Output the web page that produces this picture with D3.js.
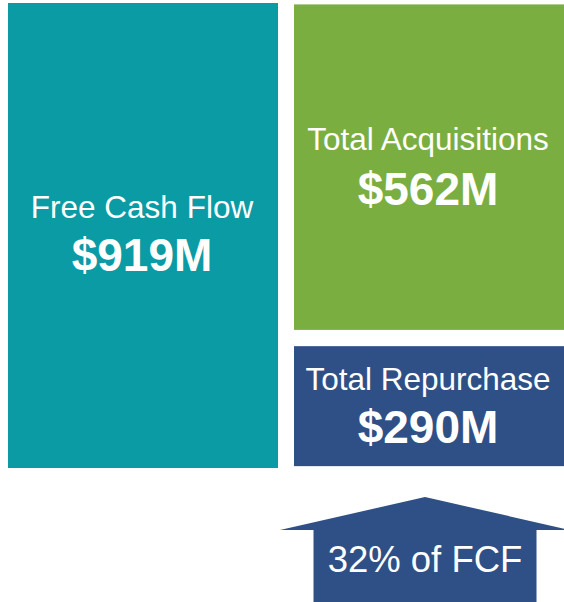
<!DOCTYPE html>
<meta charset="utf-8">
<style>
body { margin: 0; background: #fff; }
svg { display: block; }
text { font-family: "Liberation Sans", Arial, sans-serif; fill: #fff; text-anchor: middle; }
.label { font-size: 31.5px; }
.value { font-size: 46px; font-weight: bold; }
.note { font-size: 36.5px; }
</style>
<svg width="564" height="602"></svg>
<script src="https://d3js.org/d3.v7.min.js"></script>
<script>

// data
var categories = ["Free Cash Flow", "Total Acquisitions", "Total Repurchase"];
var values = [919, 562, 290];          // $M
var share = "32% of FCF";

var colors = ["#0a9ba5", "#7aae41", "#2e5086"];

var svg = d3.select("svg"),
    width = +svg.attr("width"),
    height = +svg.attr("height");

var x = d3.scaleBand()
    .domain(["fcf", "uses"])
    .range([8, width])
    .paddingInner(0.056);

// vertical layout in percent of the left block height
var y = d3.scaleLinear()
    .domain([0, 100])
    .range([3, 468]);

// block spans (top, bottom) in layout units
var spans = [[0, 100], [0.3, 70.3], [73.8, 99.6]];
var cols = ["fcf", "uses", "uses"];

var blocks = categories.map(function(c, i) {
  return {name: c, value: values[i], col: cols[i], top: spans[i][0], bottom: spans[i][1], color: colors[i]};
});

var g = svg.selectAll("g.block")
  .data(blocks)
  .enter().append("g")
    .attr("class", "block");

g.append("rect")
    .attr("x", function(d) { return x(d.col); })
    .attr("y", function(d) { return y(d.top); })
    .attr("width", x.bandwidth())
    .attr("height", function(d) { return y(d.bottom) - y(d.top); })
    .attr("fill", function(d) { return d.color; });

var labelY = [218, 150, 390],
    valueY = [271, 205, 443];

g.append("text")
    .attr("class", "label")
    .attr("x", function(d) { return x(d.col) + x.bandwidth() / 2 - 1; })
    .attr("y", function(d, i) { return labelY[i]; })
    .text(function(d) { return d.name; });

g.append("text")
    .attr("class", "value")
    .attr("x", function(d) { return x(d.col) + x.bandwidth() / 2 - 1; })
    .attr("y", function(d, i) { return valueY[i]; })
    .text(function(d) { return "$" + d.value + "M"; });

// arrow under the repurchase block
var cx = x("uses") + x.bandwidth() / 2 - 4,
    headHalf = 145,
    stemHalf = 111.5,
    apex = 497,
    shoulder = 530;

var pts = [
  [cx, apex],
  [cx + headHalf, shoulder],
  [cx + stemHalf, shoulder],
  [cx + stemHalf, height],
  [cx - stemHalf, height],
  [cx - stemHalf, shoulder],
  [cx - headHalf, shoulder]
];

svg.append("path")
    .attr("d", d3.line()(pts) + "Z")
    .attr("fill", colors[2]);

svg.append("text")
    .attr("class", "note")
    .attr("x", cx)
    .attr("y", 572)
    .text(share);

</script>
